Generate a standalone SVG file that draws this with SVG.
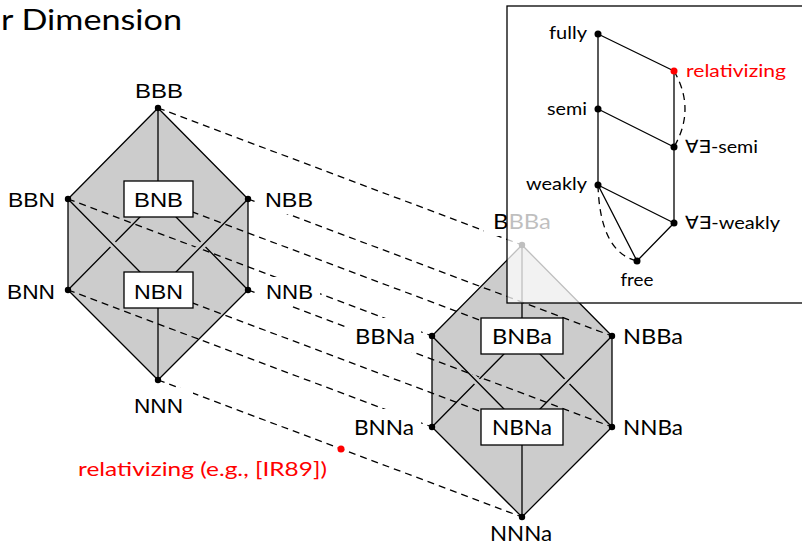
<svg xmlns="http://www.w3.org/2000/svg" width="802" height="546" viewBox="0 0 802 546">
<style>
.face{fill:#cccccc;stroke:none}
.e{stroke:#000;stroke-width:1.3;fill:none;stroke-linecap:round}
.d{stroke:#000;stroke-width:1.3;fill:none;stroke-dasharray:7 5}
.halo{stroke:#cccccc;stroke-width:7;fill:none}
.box{fill:#fff;stroke:#000;stroke-width:1.3}
.bg{fill:#fff;stroke:none}
.dot{fill:#000}
.red{fill:#ff0000}
.lt{font-family:"Liberation Sans",Arial,sans-serif;font-size:21px;fill:#000}
.rt{font-family:Lato,"DejaVu Sans",sans-serif;font-size:22px;fill:#000}
.it{font-family:Lato,"DejaVu Sans",sans-serif;font-size:18px;fill:#000}
.ttl{font-family:Lato,"DejaVu Sans",sans-serif;font-size:28px;fill:#000}
.rtxt{font-family:Lato,"DejaVu Sans",sans-serif;font-size:20px;fill:#ff0000}
</style>

<text class="ttl" x="1" y="30" textLength="181" lengthAdjust="spacingAndGlyphs">r Dimension</text>

<g id="faces">
<polygon class="face" points="158,108 248,199 248,290 158,380 68,290 68,199"/>
<polygon class="face" points="522,245 612,336 612,427 522,517 432,427 432,336"/>
</g>

<g id="connectors">
<g id="correspondences">
<line class="d" x1="158" y1="108" x2="522" y2="245"/>
<line class="d" x1="68" y1="199" x2="432" y2="336"/>
<line class="d" x1="248" y1="199" x2="612" y2="336"/>
<line class="d" x1="158" y1="199" x2="522" y2="336"/>
<line class="d" x1="68" y1="290" x2="432" y2="427"/>
<line class="d" x1="248" y1="290" x2="612" y2="427"/>
<line class="d" x1="158" y1="290" x2="522" y2="427"/>
<line class="d" x1="158" y1="380" x2="522" y2="517"/>
</g>
<g id="left-edges">
<line class="e" x1="140" y1="217" x2="68" y2="290"/>
<line class="e" x1="176" y1="217" x2="248" y2="290"/>
<line class="halo" x1="107.4" y1="238.8" x2="118.6" y2="250.2"/>
<line class="halo" x1="208.6" y1="238.8" x2="197.4" y2="250.2"/>
<line class="e" x1="68" y1="199" x2="140" y2="272"/>
<line class="e" x1="248" y1="199" x2="176" y2="272"/>
<line class="e" x1="158" y1="108" x2="68" y2="199"/>
<line class="e" x1="158" y1="108" x2="248" y2="199"/>
<line class="e" x1="158" y1="108" x2="158" y2="181"/>
<line class="e" x1="68" y1="199" x2="68" y2="290"/>
<line class="e" x1="248" y1="199" x2="248" y2="290"/>
<line class="e" x1="68" y1="290" x2="158" y2="380"/>
<line class="e" x1="248" y1="290" x2="158" y2="380"/>
<line class="e" x1="158" y1="308" x2="158" y2="380"/>
</g>
<g id="right-edges">
<line class="e" x1="504" y1="354" x2="432" y2="427"/>
<line class="e" x1="540" y1="354" x2="612" y2="427"/>
<line class="halo" x1="471.4" y1="375.8" x2="482.6" y2="387.2"/>
<line class="halo" x1="572.6" y1="375.8" x2="561.4" y2="387.2"/>
<line class="e" x1="432" y1="336" x2="504" y2="409"/>
<line class="e" x1="612" y1="336" x2="540" y2="409"/>
<line class="e" x1="522" y1="245" x2="432" y2="336"/>
<line class="e" x1="522" y1="245" x2="612" y2="336"/>
<line class="e" x1="522" y1="245" x2="522" y2="318"/>
<line class="e" x1="432" y1="336" x2="432" y2="427"/>
<line class="e" x1="612" y1="336" x2="612" y2="427"/>
<line class="e" x1="432" y1="427" x2="522" y2="517"/>
<line class="e" x1="612" y1="427" x2="522" y2="517"/>
<line class="e" x1="522" y1="445" x2="522" y2="517"/>
</g>
</g>

<g id="BBB"><rect class="bg" x="128" y="76" width="62" height="28"/><text class="lt" x="159" y="98" text-anchor="middle" textLength="48" lengthAdjust="spacingAndGlyphs">BBB</text><circle class="dot" cx="158" cy="108" r="3.2"/></g>
<g id="BBN"><rect class="bg" x="1" y="181" width="61" height="32"/><text class="lt" x="8" y="207" textLength="47" lengthAdjust="spacingAndGlyphs">BBN</text><circle class="dot" cx="68" cy="199" r="3.2"/></g>
<g id="NBB"><rect class="bg" x="258" y="181" width="62" height="33"/><text class="lt" x="265" y="207" textLength="48" lengthAdjust="spacingAndGlyphs">NBB</text><circle class="dot" cx="248" cy="199" r="3.2"/></g>
<g id="BNB"><rect class="box" x="124" y="181" width="69" height="36"/><text class="lt" x="158.5" y="207" text-anchor="middle" textLength="49" lengthAdjust="spacingAndGlyphs">BNB</text></g>
<g id="BNN"><rect class="bg" x="0" y="273" width="62" height="32"/><text class="lt" x="7" y="299" textLength="48" lengthAdjust="spacingAndGlyphs">BNN</text><circle class="dot" cx="68" cy="290" r="3.2"/></g>
<g id="NNB"><rect class="bg" x="259" y="277" width="61" height="29"/><text class="lt" x="266" y="299" textLength="47" lengthAdjust="spacingAndGlyphs">NNB</text><circle class="dot" cx="248" cy="290" r="3.2"/></g>
<g id="NBN"><rect class="box" x="124" y="272" width="69" height="36"/><text class="lt" x="158.5" y="299" text-anchor="middle" textLength="49" lengthAdjust="spacingAndGlyphs">NBN</text></g>
<g id="NNN"><rect class="bg" x="128" y="388" width="65" height="31"/><text class="lt" x="158.5" y="413" text-anchor="middle" textLength="49" lengthAdjust="spacingAndGlyphs">NNN</text><circle class="dot" cx="158" cy="380" r="3.2"/></g>

<g id="BBBa"><rect class="bg" x="484" y="205" width="74" height="31"/><text class="rt" x="522" y="229" text-anchor="middle" textLength="58" lengthAdjust="spacingAndGlyphs">BBBa</text><circle class="dot" cx="522" cy="245" r="3.2"/></g>
<g id="BBNa"><rect class="bg" x="349" y="318" width="72" height="34"/><text class="rt" x="355" y="344" textLength="60" lengthAdjust="spacingAndGlyphs">BBNa</text><circle class="dot" cx="432" cy="336" r="3.2"/></g>
<g id="NBBa"><rect class="bg" x="617" y="318" width="73" height="34"/><text class="rt" x="623" y="344" textLength="60" lengthAdjust="spacingAndGlyphs">NBBa</text><circle class="dot" cx="612" cy="336" r="3.2"/></g>
<g id="BNBa"><rect class="box" x="481" y="318" width="82" height="36"/><text class="rt" x="522" y="344" text-anchor="middle" textLength="60" lengthAdjust="spacingAndGlyphs">BNBa</text></g>
<g id="BNNa"><rect class="bg" x="347" y="409" width="74" height="34"/><text class="rt" x="354" y="435" textLength="60" lengthAdjust="spacingAndGlyphs">BNNa</text><circle class="dot" cx="432" cy="427" r="3.2"/></g>
<g id="NBNa"><rect class="box" x="481" y="409" width="82" height="36"/><text class="rt" x="522" y="435" text-anchor="middle" textLength="60" lengthAdjust="spacingAndGlyphs">NBNa</text></g>
<g id="NNBa"><rect class="bg" x="617" y="409" width="73" height="34"/><text class="rt" x="623" y="435" textLength="60" lengthAdjust="spacingAndGlyphs">NNBa</text><circle class="dot" cx="612" cy="427" r="3.2"/></g>
<g id="NNNa"><rect class="bg" x="484" y="520" width="74" height="26"/><text class="rt" x="521" y="541" text-anchor="middle" textLength="62" lengthAdjust="spacingAndGlyphs">NNNa</text><circle class="dot" cx="522" cy="517" r="3.2"/></g>

<g id="relativizing-example"><circle class="red" cx="341" cy="449" r="3.5"/><text class="rtxt" x="78" y="476" textLength="249" lengthAdjust="spacingAndGlyphs">relativizing (e.g., [IR89])</text></g>

<g id="inset">
<rect x="507" y="6" width="310" height="297" fill="#ffffff" fill-opacity="0.75" stroke="#000" stroke-width="1.3"/>
<g id="inset-connectors">
<line class="e" x1="598" y1="34" x2="598" y2="185"/>
<line class="e" x1="674" y1="71" x2="674" y2="223"/>
<line class="e" x1="598" y1="34" x2="674" y2="71"/>
<line class="e" x1="598" y1="109" x2="674" y2="147"/>
<line class="e" x1="598" y1="185" x2="674" y2="223"/>
<line class="e" x1="598" y1="185" x2="637" y2="261"/>
<line class="e" x1="674" y1="223" x2="637" y2="261"/>
<path class="d" d="M674,71 Q696,109 674,147"/>
<path class="d" d="M598,185 Q600,252 637,261"/>
</g>
<g id="fully"><circle class="dot" cx="598" cy="34" r="3.5"/><text class="it" x="587" y="39" text-anchor="end" textLength="38" lengthAdjust="spacingAndGlyphs">fully</text></g>
<g id="relativizing"><circle class="red" cx="674" cy="71" r="3.5"/><text class="it" x="686" y="77" style="fill:#ff0000" textLength="100" lengthAdjust="spacingAndGlyphs">relativizing</text></g>
<g id="semi"><circle class="dot" cx="598" cy="109" r="3.5"/><text class="it" x="587" y="115" text-anchor="end" textLength="40" lengthAdjust="spacingAndGlyphs">semi</text></g>
<g id="ae-semi"><circle class="dot" cx="674" cy="147" r="3.5"/><text class="it" x="685" y="153" textLength="73" lengthAdjust="spacingAndGlyphs">∀∃-semi</text></g>
<g id="weakly"><circle class="dot" cx="598" cy="185" r="3.5"/><text class="it" x="587" y="190" text-anchor="end" textLength="61" lengthAdjust="spacingAndGlyphs">weakly</text></g>
<g id="ae-weakly"><circle class="dot" cx="674" cy="223" r="3.5"/><text class="it" x="685" y="229" textLength="95" lengthAdjust="spacingAndGlyphs">∀∃-weakly</text></g>
<g id="free"><circle class="dot" cx="637" cy="261" r="3.5"/><text class="it" x="637" y="286" text-anchor="middle" textLength="33" lengthAdjust="spacingAndGlyphs">free</text></g>
</g>
</svg>
